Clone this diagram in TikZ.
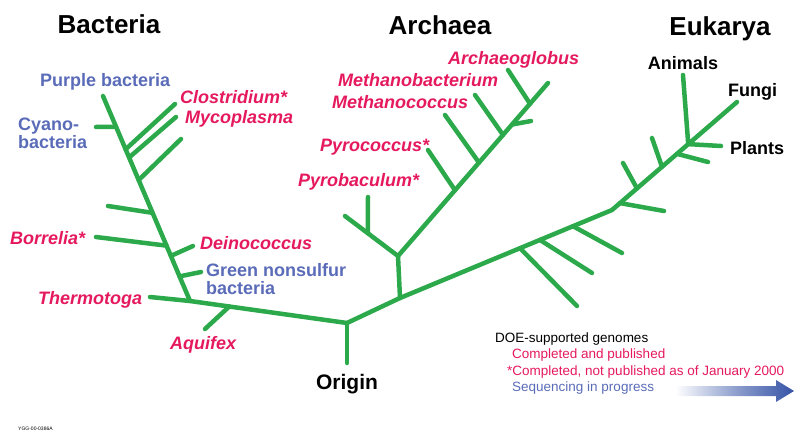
\documentclass[tikz,border=0pt]{standalone}
\usepackage{fontspec}
\setmainfont{Liberation Sans}
\usetikzlibrary{calc}
\definecolor{TolGreen}{HTML}{2BA94B}
\definecolor{TolRed}{HTML}{E5195E}
\definecolor{TolBlue}{HTML}{5A6BB8}
\definecolor{TolArrow}{HTML}{3553A6}
\tikzset{
  tolbranch/.style={
    draw=TolGreen,
    line width=4.5pt,
    line cap=round,
    line join=round
  },
  tollabel/.style={
    inner sep=0pt,
    anchor=west,
    text height=13pt,
    text depth=0pt,
    font=\fontsize{18}{18}\selectfont\bfseries
  },
  tolgenome/.style={
    tollabel,
    text=TolRed,
    font=\fontsize{18}{18}\selectfont\bfseries\itshape
  },
  tolgroup/.style={tollabel,text=TolBlue},
  toldomain/.style={
    inner sep=0pt,
    text height=18.6pt,
    text depth=0pt,
    font=\fontsize{26}{26}\selectfont\bfseries
  },
  tollegend/.style={
    inner sep=0pt,
    anchor=west,
    text height=9.7pt,
    text depth=0pt,
    font=\fontsize{13.5}{13.5}\selectfont
  }
}
\begin{document}
\begin{tikzpicture}[x=1pt,y=-1pt]
    \useasboundingbox (0,0) rectangle (796,434);
    \coordinate (org) at (347,323);
    \coordinate (root) at (347,363);
    \coordinate (bjoin) at (190,301);
    \coordinate (thermo) at (150,297);
    \coordinate (btop) at (103,96);
    \coordinate (akink) at (400,298);
    \coordinate (ajoin) at (398,256);
    \coordinate (atop) at (548,83);
    \coordinate (pyrob) at (345,216);
    \coordinate (ebend) at (612,210);
    \coordinate (etop) at (737,102);
    \coordinate (cyano) at (96,127);
    \coordinate (clos) at (175,104);
    \coordinate (myco) at (176,117);
    \coordinate (bthird) at (181,139);
    \coordinate (bleft) at (108,206);
    \coordinate (borr) at (96,237);
    \coordinate (dein) at (193,246);
    \coordinate (gns) at (201,272);
    \coordinate (aqui) at (205,329);
    \coordinate (pyrbsub) at (368,197);
    \coordinate (pyroc) at (428,150);
    \coordinate (mcocc) at (445,115);
    \coordinate (mbact) at (475,95);
    \coordinate (aglob) at (508,70);
    \coordinate (ashort) at (531,121);
    \coordinate (elow1) at (577,306);
    \coordinate (elow2) at (592,273);
    \coordinate (elow3) at (622,253);
    \coordinate (ebr1) at (664,211);
    \coordinate (ebr2) at (623,163);
    \coordinate (ebr3) at (652,138);
    \coordinate (ebr4) at (708,162);
    \coordinate (anim) at (683,75);
    \coordinate (plant) at (721,146);

    \draw[tolbranch] (root) -- (org);
    \draw[tolbranch] (thermo) -- (bjoin) -- (org);
    \draw[tolbranch] (bjoin) -- (btop);
    \draw[tolbranch] (org) -- (akink) -- (ebend) -- (etop);
    \draw[tolbranch] (akink) -- (ajoin) -- (atop);
    \draw[tolbranch] (ajoin) -- (pyrob);

    \draw[tolbranch] ($(btop)!.15!(bjoin)$) -- (cyano);
    \draw[tolbranch] ($(btop)!.26!(bjoin)$) -- (clos);
    \draw[tolbranch] ($(btop)!.30!(bjoin)$) -- (myco);
    \draw[tolbranch] ($(btop)!.41!(bjoin)$) -- (bthird);
    \draw[tolbranch] ($(btop)!.57!(bjoin)$) -- (bleft);
    \draw[tolbranch] ($(btop)!.73!(bjoin)$) -- (borr);
    \draw[tolbranch] ($(btop)!.78!(bjoin)$) -- (dein);
    \draw[tolbranch] ($(btop)!.88!(bjoin)$) -- (gns);
    \draw[tolbranch] ($(bjoin)!.25!(org)$) -- (aqui);

    \draw[tolbranch] ($(ajoin)!.57!(pyrob)$) -- (pyrbsub);
    \draw[tolbranch] ($(ajoin)!.38!(atop)$) -- (pyroc);
    \draw[tolbranch] ($(ajoin)!.54!(atop)$) -- (mcocc);
    \draw[tolbranch] ($(ajoin)!.70!(atop)$) -- (mbact);
    \draw[tolbranch] ($(ajoin)!.76!(atop)$) -- (ashort);
    \draw[tolbranch] ($(ajoin)!.88!(atop)$) -- (aglob);

    \draw[tolbranch] ($(akink)!.566!(ebend)$) -- (elow1);
    \draw[tolbranch] ($(akink)!.66!(ebend)$) -- (elow2);
    \draw[tolbranch] ($(akink)!.816!(ebend)$) -- (elow3);
    \draw[tolbranch] ($(ebend)!.064!(etop)$) -- (ebr1);
    \draw[tolbranch] ($(ebend)!.2!(etop)$) -- (ebr2);
    \draw[tolbranch] ($(ebend)!.4!(etop)$) -- (ebr3);
    \draw[tolbranch] ($(ebend)!.52!(etop)$) -- (ebr4);
    \draw[tolbranch] (anim) -- ($(ebend)!.61!(etop)$) -- (plant);

    \node[toldomain] (bacteria) at (109,24) {Bacteria};
    \node[toldomain] (archaea) at (440,25) {Archaea};
    \node[toldomain] (eukarya) at (720,26) {Eukarya};
    \node[toldomain,text height=15pt,font=\fontsize{21}{21}\selectfont\bfseries] (origin) at (347,382) {Origin};

    \node[tolgroup] (purple) at (40,80) {Purple bacteria};
    \node[tolgroup,text height=,text depth=,anchor=north west,align=left] (cyanolbl) at (18,118) {Cyano-\\bacteria};
    \node[tolgenome] (closlbl) at (180,97) {Clostridium*};
    \node[tolgenome] (mycolbl) at (185,117) {Mycoplasma};
    \node[tolgenome] (borrlbl) at (10,238) {Borrelia*};
    \node[tolgenome] (deinlbl) at (200,243) {Deinococcus};
    \node[tolgroup,text height=,text depth=,anchor=north west,align=left] (gnslbl) at (206,263) {Green nonsulfur\\bacteria};
    \node[tolgenome] (thermolbl) at (38,298) {Thermotoga};
    \node[tolgenome] (aquilbl) at (170,343) {Aquifex};

    \node[tolgenome] (aglobl) at (448,58) {Archaeoglobus};
    \node[tolgenome] (mbactl) at (338,80) {Methanobacterium};
    \node[tolgenome] (mcoccl) at (332,102) {Methanococcus};
    \node[tolgenome] (pyrocl) at (320,145) {Pyrococcus*};
    \node[tolgenome] (pyrobl) at (298,180) {Pyrobaculum*};

    \node[tollabel,anchor=center] (animlbl) at (683,63) {Animals};
    \node[tollabel] (fungilbl) at (728,90) {Fungi};
    \node[tollabel] (plantlbl) at (730,148) {Plants};

    \node[tollegend] (legtitle) at (495,338) {DOE-supported genomes};
    \node[tollegend,text=TolRed] (legdone) at (512,354) {Completed and published};
    \node[tollegend,text=TolRed] (legunpub) at (507,371) {*Completed, not published as of January 2000};
    \node[tollegend,text=TolBlue] (legprog) at (512,387) {Sequencing in progress};
    \shade[left color=white,right color=TolArrow,middle color=TolArrow!55]
      (675,386) -- (776,386) -- (776,380) -- (794,391) -- (776,402) -- (776,396) -- (675,396) -- cycle;

    \node[inner sep=0pt,anchor=west,font=\fontsize{5}{5}\selectfont] (refno) at (18,429) {YGG-00-0386A};
  \end{tikzpicture}
\end{document}
